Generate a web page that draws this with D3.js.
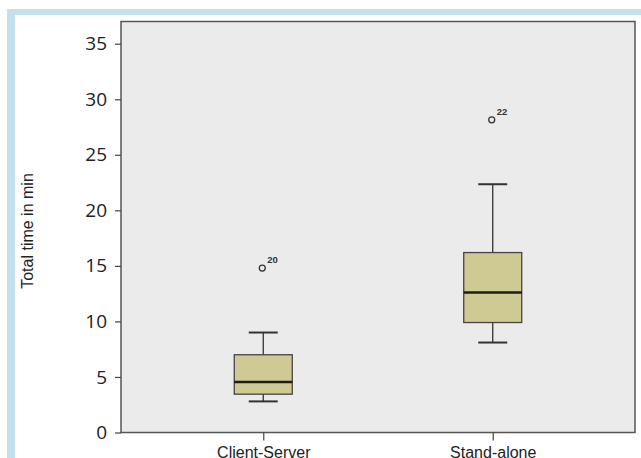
<!DOCTYPE html>
<html>
<head>
<meta charset="utf-8">
<script src="https://cdn.jsdelivr.net/npm/d3@7"></script>
<style>
  body { margin: 0; background: #fff; }
  svg { display: block; }
</style>
</head>
<body>
<script>
// box plot values
var categories = ["Client-Server", "Stand-alone"];
var whiskerLow = [2.8, 8.1];
var q1 = [3.45, 9.9];
var median = [4.55, 12.6];
var q3 = [7.0, 16.2];
var whiskerHigh = [9.0, 22.35];
var outlierValues = [14.8, 28.15];
var outlierIds = ["20", "22"];
var yTicks = [0, 5, 10, 15, 20, 25, 30, 35];

var width = 641, height = 458;
var plotLeft = 121, plotRight = 635, plotTop = 21.5, plotBottom = 432.5;
var boxWidth = 58, capWidth = 29;

var boxes = categories.map(function(c, i) {
  return { name: c, lo: whiskerLow[i], q1: q1[i], med: median[i], q3: q3[i], hi: whiskerHigh[i],
    out: outlierValues[i], id: outlierIds[i] };
});

var svg = d3.select("body").append("svg")
  .attr("width", width)
  .attr("height", height);

// light blue frame of the figure
svg.append("rect").attr("x", 7).attr("y", 9).attr("width", width - 7).attr("height", 6).attr("fill", "#c4e0ef");
svg.append("rect").attr("x", 7).attr("y", 9).attr("width", 8).attr("height", height - 9).attr("fill", "#c4e0ef");

var x = d3.scalePoint()
  .domain(categories)
  .range([plotLeft, plotRight])
  .padding(0.62);

var y = d3.scaleLinear()
  .domain([0, 37])
  .range([plotBottom, plotTop]);

svg.append("rect")
  .attr("x", plotLeft).attr("y", plotTop)
  .attr("width", plotRight - plotLeft).attr("height", plotBottom - plotTop)
  .attr("fill", "#ebebeb")
  .attr("stroke", "#555")
  .attr("stroke-width", 1.5);

var yAxis = svg.append("g")
  .attr("transform", "translate(" + plotLeft + ",0)")
  .call(d3.axisLeft(y).tickValues(yTicks).tickSize(6).tickPadding(8));
yAxis.select(".domain").remove();
yAxis.selectAll("line").attr("stroke", "#444").attr("stroke-width", 1.2);
yAxis.selectAll("text")
  .attr("fill", "#222")
  .style("font-family", "'Open Sans', sans-serif")
  .style("font-size", "19px");

var xAxis = svg.append("g")
  .attr("transform", "translate(0," + plotBottom + ")")
  .call(d3.axisBottom(x).tickSize(8).tickPadding(6));
xAxis.select(".domain").remove();
xAxis.selectAll("line").attr("stroke", "#444").attr("stroke-width", 1.2);
xAxis.selectAll("text")
  .attr("fill", "#222")
  .style("font-family", "'Liberation Sans', Arial, sans-serif")
  .style("font-size", "16px");

svg.append("text")
  .attr("transform", "translate(33,231) rotate(-90)")
  .attr("text-anchor", "middle")
  .attr("fill", "#222")
  .style("font-family", "'Liberation Sans', Arial, sans-serif")
  .style("font-size", "16px")
  .text("Total time in min");

var g = svg.selectAll(".box")
  .data(boxes)
  .enter().append("g")
  .attr("class", "box");

// whisker stems
g.append("line")
  .attr("x1", function(d) { return x(d.name); })
  .attr("x2", function(d) { return x(d.name); })
  .attr("y1", function(d) { return y(d.hi); })
  .attr("y2", function(d) { return y(d.lo); })
  .attr("stroke", "#333").attr("stroke-width", 1.3);

g.selectAll(".cap")
  .data(function(d) { return [d.lo, d.hi].map(function(v) { return { name: d.name, v: v }; }); })
  .enter().append("line")
  .attr("class", "cap")
  .attr("x1", function(d) { return x(d.name) - capWidth / 2; })
  .attr("x2", function(d) { return x(d.name) + capWidth / 2; })
  .attr("y1", function(d) { return y(d.v); })
  .attr("y2", function(d) { return y(d.v); })
  .attr("stroke", "#333").attr("stroke-width", 2);

g.append("rect")
  .attr("x", function(d) { return x(d.name) - boxWidth / 2; })
  .attr("y", function(d) { return y(d.q3); })
  .attr("width", boxWidth)
  .attr("height", function(d) { return y(d.q1) - y(d.q3); })
  .attr("fill", "#cfc994")
  .attr("stroke", "#444")
  .attr("stroke-width", 1.3);

g.append("line")
  .attr("x1", function(d) { return x(d.name) - boxWidth / 2; })
  .attr("x2", function(d) { return x(d.name) + boxWidth / 2; })
  .attr("y1", function(d) { return y(d.med); })
  .attr("y2", function(d) { return y(d.med); })
  .attr("stroke", "#1e1e14").attr("stroke-width", 2.5);

g.append("circle")
  .attr("cx", function(d) { return x(d.name) - 1; })
  .attr("cy", function(d) { return y(d.out); })
  .attr("r", 3)
  .attr("fill", "none")
  .attr("stroke", "#333")
  .attr("stroke-width", 1.3);

g.append("text")
  .attr("x", function(d) { return x(d.name) + 4; })
  .attr("y", function(d) { return y(d.out) - 5; })
  .attr("fill", "#333")
  .style("font-family", "'Liberation Sans', Arial, sans-serif")
  .style("font-size", "9.5px")
  .style("font-weight", "bold")
  .text(function(d) { return d.id; });
</script>
</body>
</html>
